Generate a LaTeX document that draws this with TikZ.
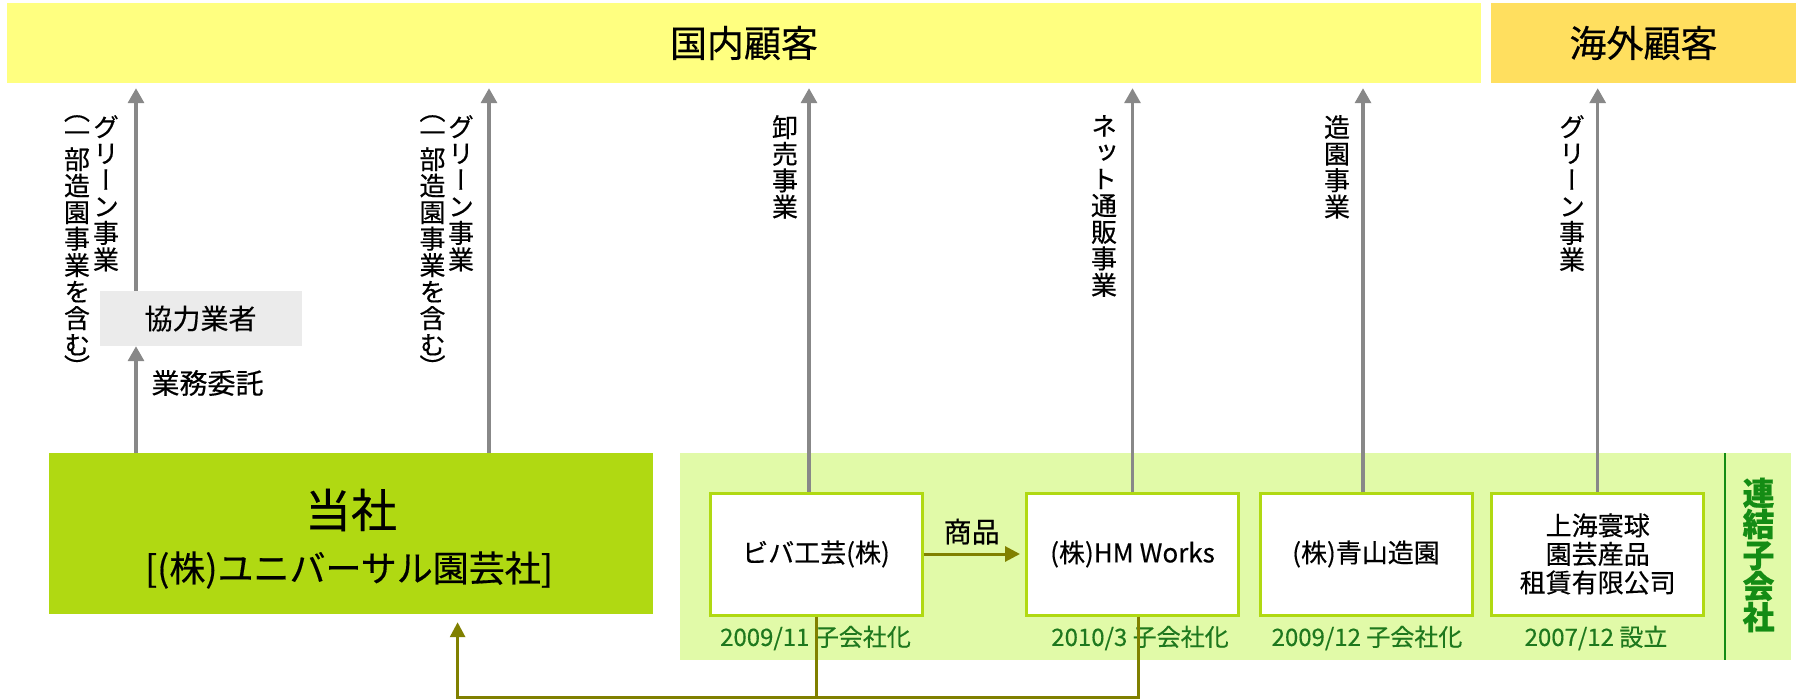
\documentclass[tikz,border=0pt]{standalone}
\usepackage{fontspec}
\setmainfont{Noto Sans CJK JP}[FakeBold=0.4]
\newfontfamily\vfont[RawFeature=+vert,FakeBold=0.4]{Noto Sans CJK JP}
\usetikzlibrary{arrows.meta,positioning}
\definecolor{domyellow}{RGB}{255,255,128}
\definecolor{oversea}{RGB}{255,223,95}
\definecolor{leaf}{RGB}{176,217,18}
\definecolor{paleleaf}{RGB}{225,250,168}
\definecolor{coopgray}{RGB}{235,235,235}
\definecolor{flowgray}{RGB}{136,136,136}
\definecolor{goodsolive}{RGB}{128,128,0}
\definecolor{dategreen}{RGB}{30,120,30}
\definecolor{linkgreen}{RGB}{20,140,20}

\begin{document}
\begin{tikzpicture}[x=1pt,y=-1pt,
	band/.style={minimum height=80pt, inner sep=0pt, font=\fontsize{37}{37}\selectfont},
	firm/.style={draw=leaf, line width=3pt, fill=white, minimum width=212pt, minimum height=122pt, inner sep=0pt, align=center, font=\fontsize{26}{28.5}\selectfont},
	flow/.style={draw=flowgray, line width=3.3pt, -{Triangle[length=15pt,width=16pt]}},
	goods/.style={draw=goodsolive, line width=3pt},
	datelbl/.style={text=dategreen, inner sep=0pt, font=\fontsize{24}{24}\selectfont},
	vlabel/.style={anchor=north, align=center, inner sep=0pt, font=\vfont\fontsize{26}{26.5}\selectfont}]
			%%%%% START %%%%%
			\useasboundingbox (0,0) rectangle (1802,699);
			
			\node[band, fill=domyellow, minimum width=1474pt] (domestic) at (744,43) {国内顧客};
			\node[band, fill=oversea, minimum width=305pt] (overseas) at (1643.5,43) {海外顧客};
			\coordinate (top) at ([yshift=-5pt]domestic.south);
			
			\fill[paleleaf] (680,453) rectangle (1791,660);
			\draw[linkgreen, line width=2pt] (1725,453) -- (1725,660);
			\node[text=linkgreen, align=center, inner sep=0pt, font=\bfseries\fontsize{32}{31}\selectfont] (group) at (1758.5,555) {連\\結\\子\\会\\社};
			
			\node[fill=leaf, minimum width=604pt, minimum height=161pt, inner sep=0pt] (main) at (351,533.5) {};
			\node[inner sep=0pt, font=\fontsize{46}{46}\selectfont] (maintitle) at (351,510) {当社};
			\node[inner sep=0pt, font=\fontsize{36}{36}\selectfont] (mainname) at (349,570) {[(株)ユニバーサル園芸社]};
			\node[fill=coopgray, minimum width=202pt, minimum height=55pt, inner sep=0pt, font=\fontsize{28}{28}\selectfont] (coop) at (200.5,318.5) {協力業者};
			
			\node[firm] (viva) at (816,554) {ビバ工芸(株)};
			\node[firm] (hmw) at (1132.5,554) {(株)HM Works};
			\node[firm] (aoyama) at (1366,554) {(株)青山造園};
			\node[firm] (shanghai) at (1597.7,554) {上海寰球\\園芸産品\\租賃有限公司};
			
			\node[datelbl] (dviva) at (815.5,638) {2009/11 子会社化};
			\node[datelbl] (dhmw) at (1140,638) {2010/3 子会社化};
			\node[datelbl] (daoyama) at (1367,638) {2009/12 子会社化};
			\node[datelbl] (dshanghai) at (1596,638) {2007/12 設立};
			
			% gray arrows up to the customers
			\coordinate (c1) at (136,0);
			\coordinate (c2) at (489,0);
			\draw[flow] (main.north -| c1) -- (coop.south -| c1);
			\draw[flow] (coop.north -| c1) -- (top -| c1);
			\draw[flow] (main.north -| c2) -- (top -| c2);
			\draw[flow] ([xshift=-7pt]viva.north) -- ([xshift=-7pt]viva.north |- top);
			\draw[flow] (hmw.north) -- (hmw.north |- top);
			\draw[flow] ([xshift=-3pt]aoyama.north) -- ([xshift=-3pt]aoyama.north |- top);
			\draw[flow] (shanghai.north) -- (shanghai.north |- top);
			
			\node[inner sep=0pt, font=\fontsize{28}{28}\selectfont] (entrust) at (207.5,383) {業務委託};
			
			\node[vlabel] (lgreen) at (106,115) {グ\\リ\\ー\\ン\\事\\業};
			\node[vlabel] (lgreenx) at (77,115) {︵\\[-4pt]一\\部\\造\\園\\事\\業\\を\\含\\む\\[-4pt]︶};
			\node[vlabel] (lgreen2) at (461,115) {グ\\リ\\ー\\ン\\事\\業};
			\node[vlabel] (lgreen2x) at (432.5,115) {︵\\[-4pt]一\\部\\造\\園\\事\\業\\を\\含\\む\\[-4pt]︶};
			\node[vlabel] (lwhole) at (785,115) {卸\\売\\事\\業};
			\node[vlabel] (lnet) at (1104,115) {ネ\\ッ\\ト\\通\\販\\事\\業};
			\node[vlabel] (lland) at (1337,115) {造\\園\\事\\業};
			\node[vlabel] (lgreen3) at (1572,115) {グ\\リ\\ー\\ン\\事\\業};
			
			% goods and the way back to the company
			\draw[goods, -{Triangle[length=15pt,width=15pt]}] (viva.east) -- ([xshift=-5pt]hmw.west)
				node[midway, above=8pt, inner sep=0pt, text=black, font=\fontsize{28}{28}\selectfont] (goodslbl) {商品};
			\coordinate (bus) at (457.6,697);
			\draw[goods] ([xshift=6pt]hmw.south) |- (bus);
			\draw[goods, -{Triangle[length=15pt,width=15pt]}] (viva.south) |- (bus) -- ([yshift=-8pt]main.south -| bus);
			%%%%% END %%%%%
\end{tikzpicture}
\end{document}
